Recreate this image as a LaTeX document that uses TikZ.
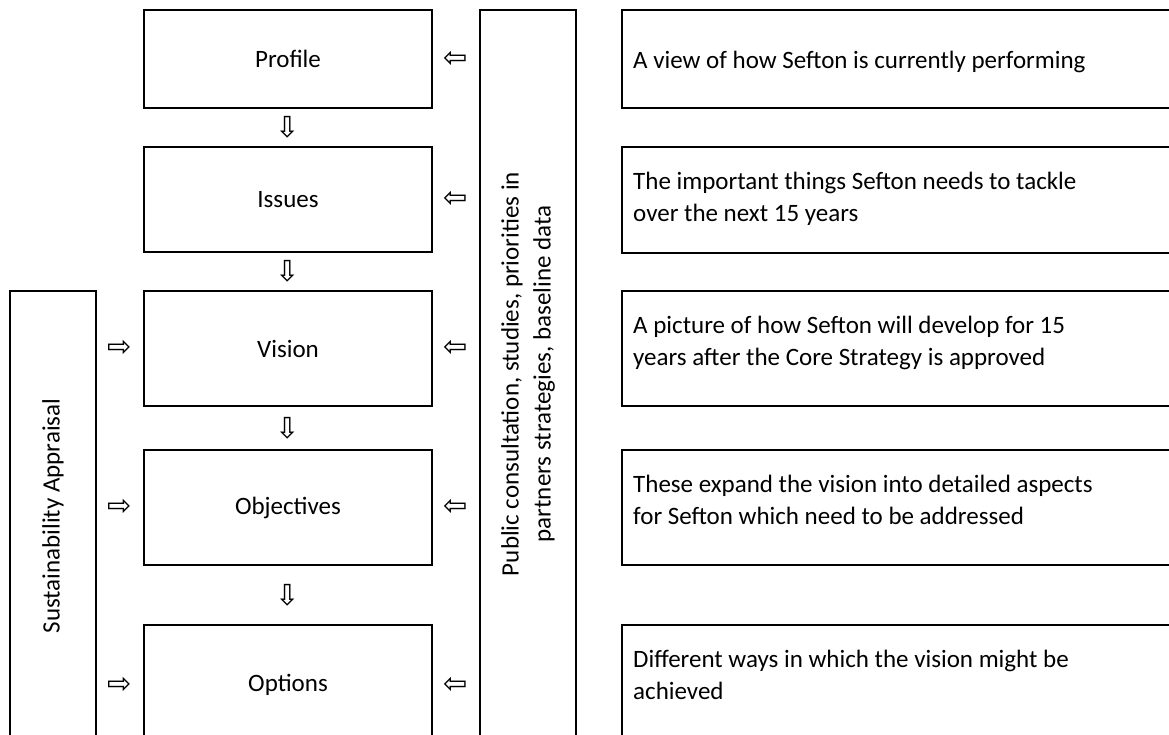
\documentclass[tikz,border=0pt]{standalone}
\usepackage{fontspec}
\setmainfont{Carlito}
\newfontfamily\arrowfont{DejaVu Sans}
\usetikzlibrary{calc,positioning}
\tikzset{
	stage/.style={
		rectangle,
		draw=black, line width=2pt,
		minimum width=288pt,
		text centered,
		font=\fontsize{25}{32}\selectfont
	},
	descbox/.style={
		rectangle,
		draw=black, line width=2pt,
		minimum width=558pt
	},
	desctext/.style={
		align=left,
		inner sep=0pt,
		font=\fontsize{25}{32}\selectfont
	},
	sidebar/.style={
		rectangle,
		draw=black, line width=2pt
	},
	sidetext/.style={
		rotate=90,
		align=center,
		font=\fontsize{25}{32}\selectfont
	},
	hollow/.style={
		inner sep=0pt,
		font=\arrowfont\fontsize{29}{29}\selectfont
	}
}
\begin{document}
\begin{tikzpicture}[x=1pt,y=-1pt]
	\useasboundingbox (0,0) rectangle (1169,735);

	%%% Nodes
	%% Stages
	\node at (288,59) [stage,minimum height=98pt] (profile) {Profile};
	\node at (288,199.5) [stage,minimum height=105pt] (issues) {Issues};
	\node at (288,348.5) [stage,minimum height=115pt] (vision) {Vision};
	\node at (288,507.5) [stage,minimum height=115pt] (objectives) {Objectives};
	\node at (288,685) [stage,minimum height=120pt] (options) {Options};

	%% Side bars
	\node at (53,518) [sidebar,minimum width=86pt,minimum height=454pt] (appraisal) {};
	\node at (53,516) [sidetext] {Sustainability Appraisal};
	\node at (528,377.5) [sidebar,minimum width=96pt,minimum height=735pt] (evidence) {};
	\node at (528,374) [sidetext] {Public consultation, studies, priorities in\\partners strategies, baseline data};

	%% Descriptions
	\node at (901,59) [descbox,minimum height=98pt] (profiledesc) {};
	\node at (901,200) [descbox,minimum height=106pt] (issuesdesc) {};
	\node at (901,348.5) [descbox,minimum height=115pt] (visiondesc) {};
	\node at (901,507.5) [descbox,minimum height=115pt] (objectivesdesc) {};
	\node at (901,685) [descbox,minimum height=120pt] (optionsdesc) {};

	\node [desctext,below right=37pt and 12pt of profiledesc.north west] {\strut A view of how Sefton is currently performing};
	\node [desctext,below right=21pt and 12pt of issuesdesc.north west] {\strut The important things Sefton needs to tackle\\over the next 15 years};
	\node [desctext,below right=21pt and 12pt of visiondesc.north west] {\strut A picture of how Sefton will develop for 15\\years after the Core Strategy is approved};
	\node [desctext,below right=21pt and 12pt of objectivesdesc.north west] {\strut These expand the vision into detailed aspects\\for Sefton which need to be addressed};
	\node [desctext,below right=21pt and 12pt of optionsdesc.north west] {\strut Different ways in which the vision might be\\achieved};

	%%% Arrows
	%% Down the stages
	\node [hollow] at ($(profile.south)!0.5!(issues.north)$) {⇩};
	\node [hollow] at ($(issues.south)!0.5!(vision.north)$) {⇩};
	\node [hollow] at ($(vision.south)!0.5!(objectives.north)$) {⇩};
	\node [hollow] at ($(objectives.south)!0.5!(options.north)$) {⇩};

	%% From the evidence bar
	\foreach \s in {profile,issues,vision,objectives,options}
		\node [hollow] at ($(\s.east)!0.5!(evidence.west |- \s.east)$) {⇦};

	%% From the appraisal bar
	\foreach \s in {vision,objectives,options}
		\node [hollow] at ($(appraisal.east |- \s.west)!0.5!(\s.west)$) {⇨};
\end{tikzpicture}
\end{document}
